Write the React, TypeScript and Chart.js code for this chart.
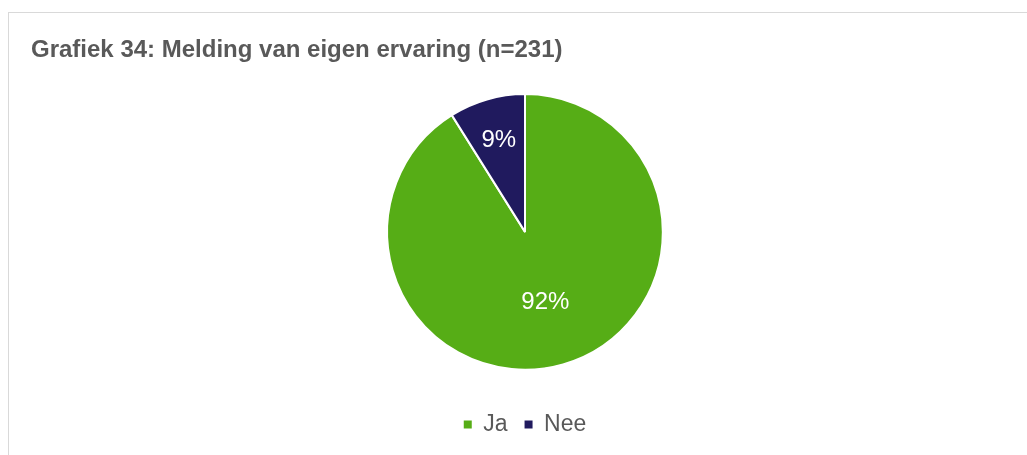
import React, { useEffect, useRef } from 'react';
import { Chart, registerables } from 'chart.js';

Chart.register(...registerables);

const categories = ['Ja', 'Nee'];
const values = [92, 9];
const valueLabels = ['92%', '9%'];
const colors = ['#56AD16', '#201A5E'];
const labelRadii = [0.535, 0.69];
const titleText = 'Grafiek 34: Melding van eigen ervaring (n=231)';

const FONT = '"Liberation Sans", Arial, Helvetica, sans-serif';
const TEXT_COLOR = '#595959';

const sliceLabels = {
  id: 'sliceLabels',
  afterDatasetsDraw(chart: any, _args: any, opts: any) {
    const meta = chart.getDatasetMeta(0);
    const ctx = chart.ctx;
    ctx.save();
    ctx.fillStyle = '#ffffff';
    ctx.font = `24px ${FONT}`;
    ctx.textAlign = 'center';
    ctx.textBaseline = 'middle';
    meta.data.forEach((arc: any, i: number) => {
      const p = arc.getProps(['x', 'y', 'startAngle', 'endAngle', 'outerRadius'], true);
      const mid = (p.startAngle + p.endAngle) / 2;
      const r = p.outerRadius * opts.radii[i];
      ctx.fillText(opts.labels[i], p.x + Math.cos(mid) * r, p.y + Math.sin(mid) * r);
    });
    ctx.restore();
  },
};

export default function App() {
  const canvasRef = useRef<HTMLCanvasElement | null>(null);

  useEffect(() => {
    if (!canvasRef.current) return;
    const chart = new Chart(canvasRef.current, {
      type: 'pie',
      data: {
        labels: categories,
        datasets: [
          {
            data: values,
            backgroundColor: colors,
            borderColor: '#ffffff',
            borderWidth: 2,
            radius: '84.5%',
          },
        ],
      },
      options: {
        responsive: true,
        maintainAspectRatio: false,
        animation: false,
        layout: { padding: { left: 22, right: 8, top: 0, bottom: 9 } },
        plugins: {
          title: {
            display: true,
            text: titleText,
            align: 'start',
            color: TEXT_COLOR,
            font: { family: FONT, size: 24, weight: 'bold' },
            padding: { top: 23, bottom: 3 },
          },
          legend: {
            display: true,
            position: 'bottom',
            labels: {
              color: TEXT_COLOR,
              font: { family: FONT, size: 23 },
              boxWidth: 8,
              boxHeight: 8,
              padding: 17,
              generateLabels: (c: any) => {
                const base = (Chart as any).overrides.pie.plugins.legend.labels.generateLabels(c);
                return base.map((l: any) => ({ ...l, lineWidth: 0, strokeStyle: 'rgba(0,0,0,0)' }));
              },
            },
          },
          tooltip: { enabled: false },
          sliceLabels: { radii: labelRadii, labels: valueLabels },
        } as any,
      },
      plugins: [sliceLabels],
    });
    return () => chart.destroy();
  }, []);

  return (
    <div
      style={{
        position: 'absolute',
        left: 8,
        top: 12,
        width: 1019,
        height: 443,
        boxSizing: 'border-box',
        borderTop: '1px solid #d9d9d9',
        borderLeft: '1px solid #d9d9d9',
        background: '#ffffff',
      }}
    >
      <div style={{ position: 'relative', width: 1018, height: 442 }}>
        <canvas ref={canvasRef} />
      </div>
    </div>
  );
}
